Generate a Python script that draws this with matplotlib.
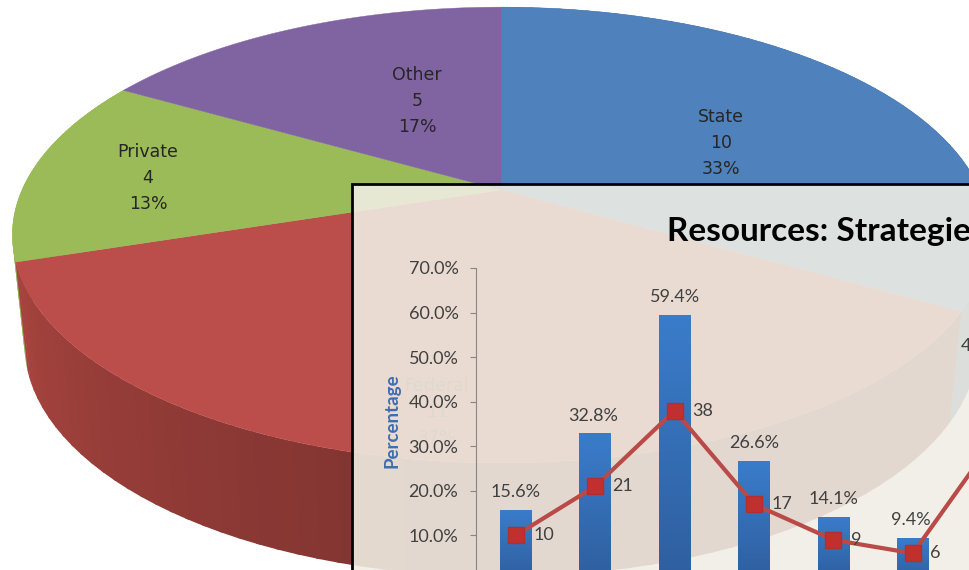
import numpy as np
import matplotlib
matplotlib.use('Agg')
import matplotlib.pyplot as plt
from matplotlib.patches import Polygon, Rectangle

# pie data
pie_names = ['State', 'Federal', 'Private', 'Other']
pie_values = [10, 11, 4, 5]
pie_colors = ['#4f81bd', '#bb4e4b', '#9bbb59', '#8064a2']
wall_left = ['#3f6897', '#a8443f', '#93b254', '#665082']
wall_right = ['#3a5f8a', '#7f3330', '#93b254', '#665082']

# strategies chart data
pct_values = [15.6, 32.8, 59.4, 26.6, 14.1, 9.4, 48.4]
count_values = [10, 21, 38, 17, 9, 6, 31]
y_ticks = [0, 10, 20, 30, 40, 50, 60, 70]

W, H = 969, 570
fig = plt.figure(figsize=(W / 100, H / 100), dpi=100)
bg = fig.add_axes([0, 0, 1, 1])
bg.set_xlim(0, W)
bg.set_ylim(H, 0)
bg.axis('off')

PIE_FONT = 'DejaVu Sans'
BOX_FONT = 'Lato'
TILT = 0.1976


def project(deg, sx=1.0, sy=1.0, y0=190):
    # circle seen in perspective, angle runs clockwise from the top
    t = np.radians(deg)
    u, v = np.sin(t), np.cos(t)
    d = 1 + TILT * v
    return 501 + 479 * sx * u / d, y0 - 219 * sy * v / d


def arc(a, b, **kw):
    deg = np.linspace(a, b, max(int(abs(b - a)) * 2, 2))
    return np.column_stack(project(deg, **kw))


def slice_wall(a, b, c0, c1):
    # split the wall in strips so the shade runs left to right
    c0 = np.array(matplotlib.colors.to_rgb(c0))
    c1 = np.array(matplotlib.colors.to_rgb(c1))
    edges = np.linspace(a, b, 60)
    for i in range(len(edges) - 1):
        top = arc(edges[i], edges[i + 1] + 0.5)
        low = arc(edges[i + 1] + 0.5, edges[i], sx=0.975, sy=1.017, y0=299)
        f = np.clip((edges[i] - (b - 65)) / 65, 0, 1)
        col = c1 * (1 - f) + c0 * f
        bg.add_patch(Polygon(np.vstack([top, low]), closed=True, fc=col, ec='none', zorder=1))


shares = np.array(pie_values) / sum(pie_values) * 360
ends = np.cumsum(shares)
starts = ends - shares

# back to front: green, blue, then red walls
for i in [2, 0, 1]:
    slice_wall(starts[i], ends[i], wall_left[i], wall_right[i])

for i in range(4):
    pts = np.vstack([[project(0.0, sx=0, sy=0)], arc(starts[i], ends[i])])
    bg.add_patch(Polygon(pts, closed=True, fc=pie_colors[i], ec=pie_colors[i], lw=0.3, zorder=2))

label_xy = [(721, 143), (437, 412), (148, 178), (417, 101)]
label_alpha = [1, 0.7, 1, 1]
for i in range(4):
    pct = round(pie_values[i] / sum(pie_values) * 100)
    bg.text(label_xy[i][0], label_xy[i][1], '%s\n%d\n%d%%' % (pie_names[i], pie_values[i], pct),
            ha='center', va='center', fontsize=12.5, family=PIE_FONT, color='#262626',
            linespacing=1.54, alpha=label_alpha[i], zorder=3)

# translucent panel over the pie
bg.add_patch(Rectangle((352, 184), 700, 500, fc=(0.943, 0.933, 0.895, 0.89), ec='black', lw=2, zorder=4))
bg.text(667, 231, 'Resources: Strategies', fontsize=24, fontweight='bold', family=BOX_FONT,
        color='black', ha='left', va='center', zorder=5)

# inset axes, placed in pixels, runs past the edge of the figure
x_left, x_right, y_top, y_zero = 475.5, 1100, 268, 580
ax = fig.add_axes([x_left / W, 1 - y_zero / H, (x_right - x_left) / W, (y_zero - y_top) / H])
ax.patch.set_alpha(0)
ax.set_zorder(5)
xs = np.arange(len(pct_values))
bar_w = 0.396
grad = np.linspace(0, 1, 64).reshape(-1, 1)
cmap = matplotlib.colors.LinearSegmentedColormap.from_list('bar', ['#2f5f9f', '#3a7cca'])
for x, p in zip(xs, pct_values):
    ax.imshow(grad, extent=[x - bar_w / 2, x + bar_w / 2, 0, p], origin='lower', aspect='auto',
              cmap=cmap, vmin=0, vmax=1, zorder=2)
ax.plot(xs, count_values, color='#b94a48', lw=3, zorder=3,
        marker='s', ms=11.5, mfc='#c0302e', mec='#b03030')

ax.set_xlim(-0.5 - 0.006, (x_right - x_left) / 79.5 - 0.5)
ax.set_ylim(0, 70)
ax.set_xticks([])
ax.set_yticks(y_ticks)
ax.set_yticklabels(['%.1f%%' % t for t in y_ticks], fontsize=13, family=BOX_FONT, color='#404040')
ax.tick_params(axis='y', length=4.3, color='#868686', pad=8)
for side in ['top', 'right', 'bottom']:
    ax.spines[side].set_visible(False)
ax.spines['left'].set_color('#868686')
ax.set_ylabel('Percentage', fontsize=13.5, fontweight='bold', family=BOX_FONT, color='#3f6eb0')
ax.yaxis.set_label_coords(-74.5 / (x_right - x_left), (y_zero - 421) / (y_zero - y_top))

pct_dx = [0.0, -0.02, 0.0, 0.0, 0.0, -0.03, -0.08]
for x, p, dx in zip(xs, pct_values, pct_dx):
    ax.text(x + dx, p + 2.3, '%.1f%%' % p, ha='center', va='bottom', fontsize=13, family=BOX_FONT,
            color='#404040', zorder=6, clip_on=True)
for x, c in zip(xs, count_values):
    ax.text(x + 0.22, c, str(c), ha='left', va='center', fontsize=13, family=BOX_FONT,
            color='#404040', zorder=6, clip_on=True)

fig.savefig('out.png', dpi=100)
